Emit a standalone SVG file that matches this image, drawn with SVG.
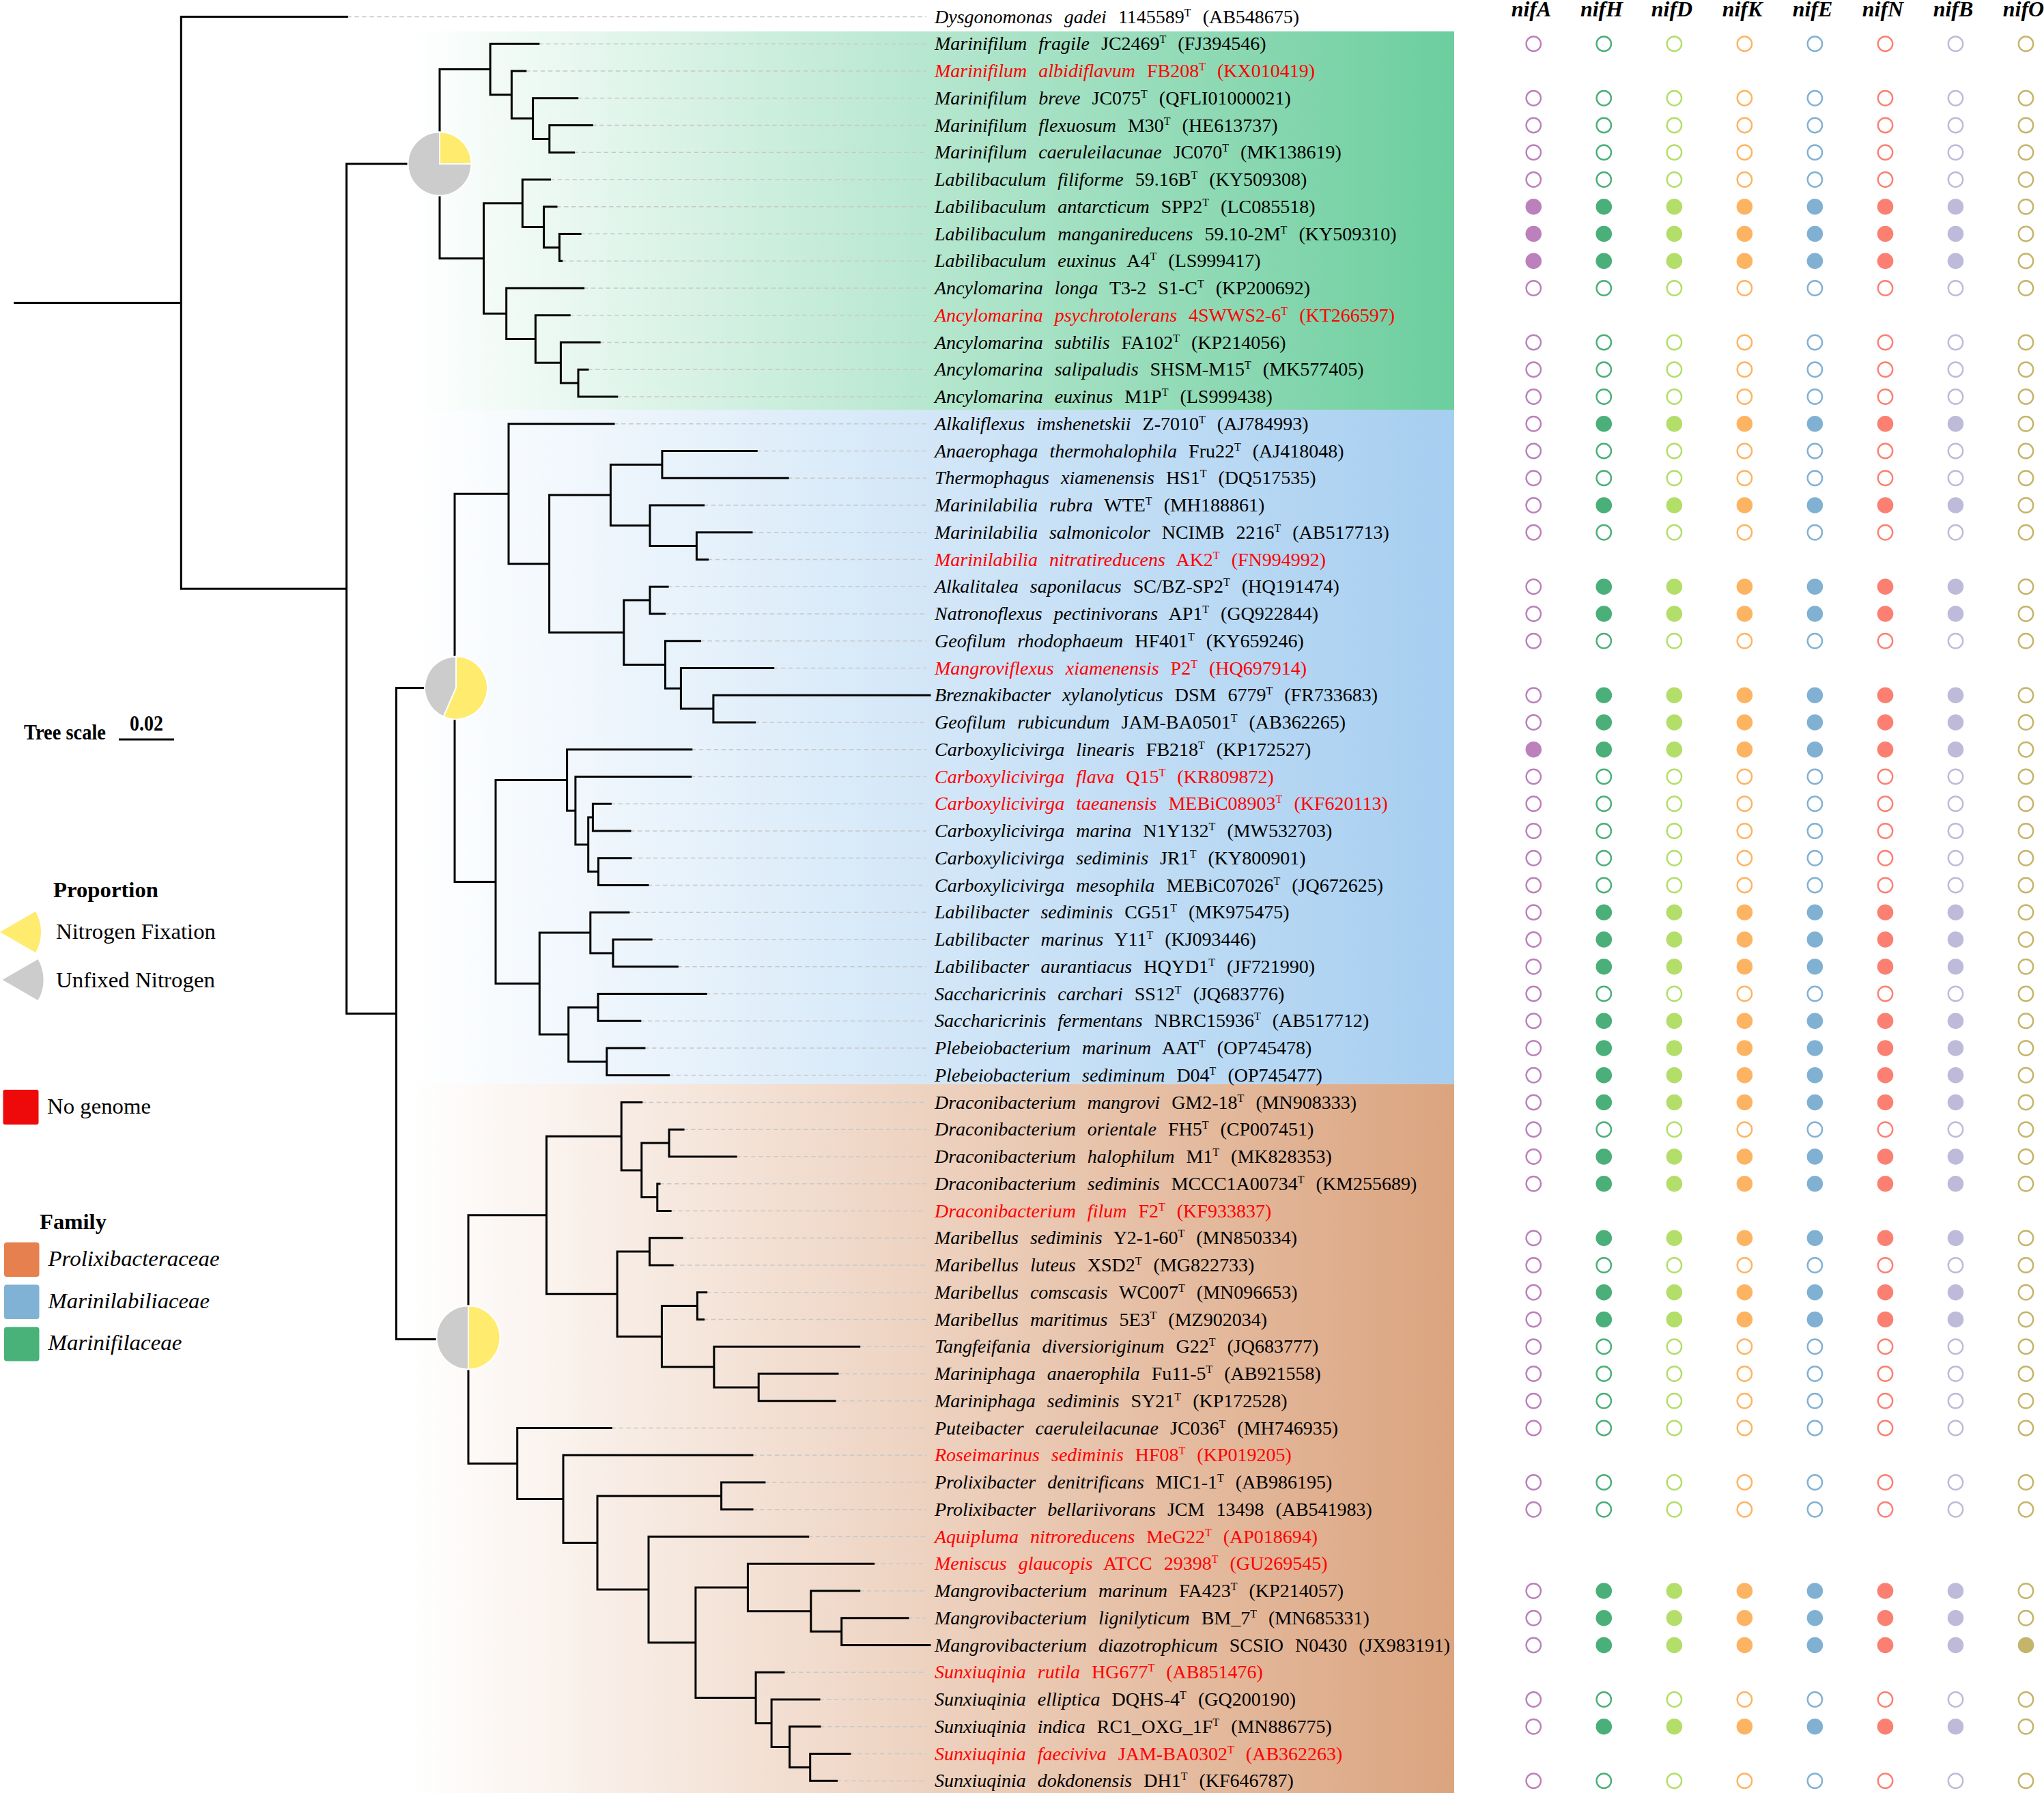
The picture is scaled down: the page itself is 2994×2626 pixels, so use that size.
<svg xmlns="http://www.w3.org/2000/svg" width="2994" height="2626" viewBox="0 0 2994 2626">
<style>
.lb{font-family:"Liberation Serif","Times New Roman",serif;font-size:28px;word-spacing:10px;fill:#000}
.rd{fill:#F00}
.i{font-style:italic}
.s{font-size:16px}
.hd{font-family:"Liberation Serif","Times New Roman",serif;font-size:32px;font-weight:bold;font-style:italic;text-anchor:middle;fill:#000}
.tr{fill:none;stroke:#000;stroke-width:3;stroke-linecap:square}
.ld{fill:none;stroke:#C8C8C8;stroke-width:1.6;stroke-dasharray:6.5 4.5}
.lg{font-family:"Liberation Serif","Times New Roman",serif;font-size:32px;fill:#000}
.b{font-weight:bold}
.ec{fill:none;stroke-width:2.4}
.yl{fill:#FFEB6E;stroke:#fff;stroke-width:2}
.gy{fill:#CCCCCC;stroke:#fff;stroke-width:2}
</style>
<defs>
<linearGradient id="gG" x1="0" y1="0" x2="1" y2="0"><stop offset="0" stop-color="#fff"/><stop offset="1" stop-color="#6CCE9E"/></linearGradient>
<linearGradient id="gB" x1="0" y1="0" x2="1" y2="0"><stop offset="0" stop-color="#fff"/><stop offset="1" stop-color="#A6CEF0"/></linearGradient>
<linearGradient id="gO" x1="0" y1="0" x2="1" y2="0"><stop offset="0" stop-color="#fff"/><stop offset="1" stop-color="#DBA47F"/></linearGradient>
<g id="rE">
<circle cx="2246.3" r="10.7" class="ec" stroke="#BC80BD"/>
<circle cx="2349.3" r="10.7" class="ec" stroke="#4AAF78"/>
<circle cx="2452.4" r="10.7" class="ec" stroke="#B3DE69"/>
<circle cx="2555.4" r="10.7" class="ec" stroke="#FDB462"/>
<circle cx="2658.4" r="10.7" class="ec" stroke="#80B1D3"/>
<circle cx="2761.5" r="10.7" class="ec" stroke="#FB8072"/>
<circle cx="2864.5" r="10.7" class="ec" stroke="#BEBADA"/>
<circle cx="2967.5" r="10.7" class="ec" stroke="#C5B56A"/>
</g>
<g id="rF">
<circle cx="2246.3" r="10.7" class="ec" stroke="#BC80BD"/>
<circle cx="2349.3" r="11.8" fill="#4AAF78"/>
<circle cx="2452.4" r="11.8" fill="#B3DE69"/>
<circle cx="2555.4" r="11.8" fill="#FDB462"/>
<circle cx="2658.4" r="11.8" fill="#80B1D3"/>
<circle cx="2761.5" r="11.8" fill="#FB8072"/>
<circle cx="2864.5" r="11.8" fill="#BEBADA"/>
<circle cx="2967.5" r="10.7" class="ec" stroke="#C5B56A"/>
</g>
<g id="rFA">
<circle cx="2246.3" r="11.8" fill="#BC80BD"/>
<circle cx="2349.3" r="11.8" fill="#4AAF78"/>
<circle cx="2452.4" r="11.8" fill="#B3DE69"/>
<circle cx="2555.4" r="11.8" fill="#FDB462"/>
<circle cx="2658.4" r="11.8" fill="#80B1D3"/>
<circle cx="2761.5" r="11.8" fill="#FB8072"/>
<circle cx="2864.5" r="11.8" fill="#BEBADA"/>
<circle cx="2967.5" r="10.7" class="ec" stroke="#C5B56A"/>
</g>
<g id="rFO">
<circle cx="2246.3" r="10.7" class="ec" stroke="#BC80BD"/>
<circle cx="2349.3" r="11.8" fill="#4AAF78"/>
<circle cx="2452.4" r="11.8" fill="#B3DE69"/>
<circle cx="2555.4" r="11.8" fill="#FDB462"/>
<circle cx="2658.4" r="11.8" fill="#80B1D3"/>
<circle cx="2761.5" r="11.8" fill="#FB8072"/>
<circle cx="2864.5" r="11.8" fill="#BEBADA"/>
<circle cx="2967.5" r="11.8" fill="#C5B56A"/>
</g>
</defs>
<rect width="2994" height="2626" fill="#fff"/>
<g id="bands">
<rect x="600" y="46" width="1530" height="554.7" fill="url(#gG)"/>
<rect x="600" y="600.7" width="1530" height="986.8" fill="url(#gB)"/>
<rect x="600" y="1587.5" width="1530" height="1038.5" fill="url(#gO)"/>
</g>
<g id="headers">
<text class="hd" x="2243" y="24">nifA</text>
<text class="hd" x="2346" y="24">nifH</text>
<text class="hd" x="2449" y="24">nifD</text>
<text class="hd" x="2552" y="24">nifK</text>
<text class="hd" x="2655" y="24">nifE</text>
<text class="hd" x="2758" y="24">nifN</text>
<text class="hd" x="2861" y="24">nifB</text>
<text class="hd" x="2964" y="24">nifO</text>
</g>
<g id="connectors">
<path class="ld" d="M508.3 24.5H1357M788.9 64.25H1357M769.8 104H1357M845.7 143.75H1357M867.3 183.5H1357M840.6 223.25H1357M805.5 263H1357M815 302.75H1357M850.1 342.5H1357M822.7 382.25H1357M854.6 422H1357M834.2 461.75H1357M878.2 501.5H1357M861 541.25H1357M903.7 581H1357M899 620.75H1357M1108.2 660.5H1357M1154.1 700.25H1357M1030.6 740H1357M1101 779.75H1357M1036.7 819.5H1357M978.1 859.25H1357M973.5 899H1357M1025.5 938.75H1357M1132.7 978.5H1357M1105.6 1058H1357M1012.8 1097.75H1357M1011.7 1137.5H1357M894.4 1177.25H1357M923 1217H1357M924 1256.75H1357M949 1296.5H1357M920.9 1336.25H1357M954.1 1376H1357M992.3 1415.75H1357M1034.2 1455.5H1357M937.8 1495.25H1357M943.9 1535H1357M979.6 1574.75H1357M939.8 1614.5H1357M1001 1654.25H1357M1078.1 1694H1357M966 1733.75H1357M982.1 1773.5H1357M999 1813.25H1357M985.2 1853H1357M1034.7 1892.75H1357M1030.6 1932.5H1357M1258.7 1972.25H1357M1227 2012H1357M1223 2051.75H1357M895.4 2091.5H1357M1102 2131.25H1357M1119.9 2171H1357M1102 2210.75H1357M1183.7 2250.5H1357M1279.6 2290.25H1357M1258.7 2330H1357M1330 2369.75H1357M1148 2449.25H1357M1200 2489H1357M1201 2528.75H1357M1244.9 2568.5H1357M1225.5 2608.25H1357"/>
<path class="tr" d="M21.7 443.4H265.3M265.3 24.5V862.25M265.3 24.5H508.3M265.3 862.25H507.6M507.6 240V1484.5M507.6 240H644M507.6 1484.5H580.5M580.5 1007.4V1961.6M580.5 1007.4H668M580.5 1961.6H686"/>
<path class="tr" d="M644 101.5V378.5M644 101.5H718.1M644 378.5H708.5M718.1 64.25V138.8M718.1 64.25H788.9M718.1 138.8H749.4M749.4 104V173.6M749.4 104H769.8M749.4 173.6H780.6M780.6 143.75V203.4M780.6 143.75H845.7M780.6 203.4H804.8M804.8 183.5V223.25M804.8 183.5H867.3M804.8 223.25H840.6M708.5 297.8V459.25M708.5 297.8H765.3M708.5 459.25H741.7M765.3 263V332.6M765.3 263H805.5M765.3 332.6H796.6M796.6 302.75V362.4M796.6 302.75H815M796.6 362.4H819.5M819.5 342.5V382.25M819.5 342.5H850.1M819.5 382.25H822.7M741.7 422V496.5M741.7 422H854.6M741.7 496.5H784.4M784.4 461.75V531.3M784.4 461.75H834.2M784.4 531.3H821.4M821.4 501.5V561.1M821.4 501.5H878.2M821.4 561.1H847M847 541.25V581M847 541.25H861M847 581H903.7"/>
<path class="tr" d="M666 723.2V1291.6M666 723.2H745M666 1291.6H726M745 620.75V825.7M745 620.75H899M745 825.7H804.6M804.6 725.1V926.3M804.6 725.1H894.4M804.6 926.3H913.8M894.4 680.4V769.8M894.4 680.4H969.9M894.4 769.8H952M969.9 660.5V700.25M969.9 660.5H1108.2M969.9 700.25H1154.1M952 740V799.6M952 740H1030.6M952 799.6H1020.4M1020.4 779.75V819.5M1020.4 779.75H1101M1020.4 819.5H1036.7M913.8 879.1V973.5M913.8 879.1H952M913.8 973.5H974.5M952 859.25V899M952 859.25H978.1M952 899H973.5M974.5 938.75V1008.3M974.5 938.75H1025.5M974.5 1008.3H997.4M997.4 978.5V1038.1M997.4 978.5H1132.7M997.4 1038.1H1044.9M1044.9 1018.25V1058M1044.9 1018.25H1362M1044.9 1058H1105.6M726 1142.5V1440.6M726 1142.5H830.6M726 1440.6H790.3M830.6 1097.75V1187.2M830.6 1097.75H1012.8M830.6 1187.2H842.9M842.9 1137.5V1236.9M842.9 1137.5H1011.7M842.9 1236.9H861.7M861.7 1197.1V1276.6M861.7 1197.1H868.4M861.7 1276.6H876.5M868.4 1177.25V1217M868.4 1177.25H894.4M868.4 1217H923M876.5 1256.75V1296.5M876.5 1256.75H924M876.5 1296.5H949M790.3 1366.1V1515.1M790.3 1366.1H864.8M790.3 1515.1H832.7M864.8 1336.25V1395.9M864.8 1336.25H920.9M864.8 1395.9H898M898 1376V1415.75M898 1376H954.1M898 1415.75H992.3M832.7 1475.4V1554.9M832.7 1475.4H876M832.7 1554.9H888.8M876 1455.5V1495.25M876 1455.5H1034.2M876 1495.25H937.8M888.8 1535V1574.75M888.8 1535H943.9M888.8 1574.75H979.6"/>
<path class="tr" d="M686 1779.7V2143.4M686 1779.7H800.5M686 2143.4H757.7M800.5 1664.2V1895.2M800.5 1664.2H910.2M800.5 1895.2H904.1M910.2 1614.5V1713.9M910.2 1614.5H939.8M910.2 1713.9H939.8M939.8 1674.1V1753.6M939.8 1674.1H980.1M939.8 1753.6H962.8M980.1 1654.25V1694M980.1 1654.25H1001M980.1 1694H1078.1M962.8 1733.75V1773.5M962.8 1733.75H966M962.8 1773.5H982.1M904.1 1833.1V1957.4M904.1 1833.1H951.5M904.1 1957.4H969.4M951.5 1813.25V1853M951.5 1813.25H999M951.5 1853H985.2M969.4 1912.6V2002.1M969.4 1912.6H1021.4M969.4 2002.1H1045.9M1021.4 1892.75V1932.5M1021.4 1892.75H1034.7M1021.4 1932.5H1030.6M1045.9 1972.25V2031.9M1045.9 1972.25H1258.7M1045.9 2031.9H1111.2M1111.2 2012V2051.75M1111.2 2012H1227M1111.2 2051.75H1223M757.7 2091.5V2195.4M757.7 2091.5H895.4M757.7 2195.4H825M825 2131.25V2259.5M825 2131.25H1102M825 2259.5H875M875 2190.9V2328.1M875 2190.9H1056.6M875 2328.1H950M1056.6 2171V2210.75M1056.6 2171H1119.9M1056.6 2210.75H1102M950 2250.5V2405.8M950 2250.5H1183.7M950 2405.8H1018.9M1018.9 2325V2486.5M1018.9 2325H1095.4M1018.9 2486.5H1107.1M1095.4 2290.25V2359.8M1095.4 2290.25H1279.6M1095.4 2359.8H1187.8M1187.8 2330V2389.6M1187.8 2330H1258.7M1187.8 2389.6H1232.7M1232.7 2369.75V2409.5M1232.7 2369.75H1330M1232.7 2409.5H1362M1107.1 2449.25V2523.8M1107.1 2449.25H1148M1107.1 2523.8H1130.1M1130.1 2489V2558.6M1130.1 2489H1200M1130.1 2558.6H1156.6M1156.6 2528.75V2588.4M1156.6 2528.75H1201M1156.6 2588.4H1186.7M1186.7 2568.5V2608.25M1186.7 2568.5H1244.9M1186.7 2608.25H1225.5"/>
</g>
<g id="pie-marinifilaceae">
<path class="gy" d="M644 240L690.5 240A46.5 46.5 0 1 1 644 193.5Z"/>
<path class="yl" d="M644 240L644 193.5A46.5 46.5 0 0 1 690.5 240Z"/>
</g>
<g id="pie-marinilabiliaceae">
<path class="gy" d="M668 1007.4L649.7 1049.6A46 46 0 0 1 668 961.4Z"/>
<path class="yl" d="M668 1007.4L668 961.4A46 46 0 1 1 649.7 1049.6Z"/>
</g>
<g id="pie-prolixibacteraceae">
<path class="gy" d="M686 1959L686 2005.5A46.5 46.5 0 0 1 686 1912.5Z"/>
<path class="yl" d="M686 1959L686 1912.5A46.5 46.5 0 0 1 686 2005.5Z"/>
</g>
<g id="leaves">
<g id="r1" transform="translate(0,24.5)"><text class="lb" x="1369" y="9"><tspan class="i">Dysgonomonas gadei</tspan> 1145589<tspan class="s" dy="-10">T</tspan><tspan dy="10"> (AB548675)</tspan></text></g>
<g id="r2" transform="translate(0,64.25)"><text class="lb" x="1369" y="9"><tspan class="i">Marinifilum fragile</tspan> JC2469<tspan class="s" dy="-10">T</tspan><tspan dy="10"> (FJ394546)</tspan></text><use href="#rE"/></g>
<g id="r3" transform="translate(0,104)"><text class="lb rd" x="1369" y="9"><tspan class="i">Marinifilum albidiflavum</tspan> FB208<tspan class="s" dy="-10">T</tspan><tspan dy="10"> (KX010419)</tspan></text></g>
<g id="r4" transform="translate(0,143.75)"><text class="lb" x="1369" y="9"><tspan class="i">Marinifilum breve</tspan> JC075<tspan class="s" dy="-10">T</tspan><tspan dy="10"> (QFLI01000021)</tspan></text><use href="#rE"/></g>
<g id="r5" transform="translate(0,183.5)"><text class="lb" x="1369" y="9"><tspan class="i">Marinifilum flexuosum</tspan> M30<tspan class="s" dy="-10">T</tspan><tspan dy="10"> (HE613737)</tspan></text><use href="#rE"/></g>
<g id="r6" transform="translate(0,223.25)"><text class="lb" x="1369" y="9"><tspan class="i">Marinifilum caeruleilacunae</tspan> JC070<tspan class="s" dy="-10">T</tspan><tspan dy="10"> (MK138619)</tspan></text><use href="#rE"/></g>
<g id="r7" transform="translate(0,263)"><text class="lb" x="1369" y="9"><tspan class="i">Labilibaculum filiforme</tspan> 59.16B<tspan class="s" dy="-10">T</tspan><tspan dy="10"> (KY509308)</tspan></text><use href="#rE"/></g>
<g id="r8" transform="translate(0,302.75)"><text class="lb" x="1369" y="9"><tspan class="i">Labilibaculum antarcticum</tspan> SPP2<tspan class="s" dy="-10">T</tspan><tspan dy="10"> (LC085518)</tspan></text><use href="#rFA"/></g>
<g id="r9" transform="translate(0,342.5)"><text class="lb" x="1369" y="9"><tspan class="i">Labilibaculum manganireducens</tspan> 59.10-2M<tspan class="s" dy="-10">T</tspan><tspan dy="10"> (KY509310)</tspan></text><use href="#rFA"/></g>
<g id="r10" transform="translate(0,382.25)"><text class="lb" x="1369" y="9"><tspan class="i">Labilibaculum euxinus</tspan> A4<tspan class="s" dy="-10">T</tspan><tspan dy="10"> (LS999417)</tspan></text><use href="#rFA"/></g>
<g id="r11" transform="translate(0,422)"><text class="lb" x="1369" y="9"><tspan class="i">Ancylomarina longa</tspan> T3-2 S1-C<tspan class="s" dy="-10">T</tspan><tspan dy="10"> (KP200692)</tspan></text><use href="#rE"/></g>
<g id="r12" transform="translate(0,461.75)"><text class="lb rd" x="1369" y="9"><tspan class="i">Ancylomarina psychrotolerans</tspan> 4SWWS2-6<tspan class="s" dy="-10">T</tspan><tspan dy="10"> (KT266597)</tspan></text></g>
<g id="r13" transform="translate(0,501.5)"><text class="lb" x="1369" y="9"><tspan class="i">Ancylomarina subtilis</tspan> FA102<tspan class="s" dy="-10">T</tspan><tspan dy="10"> (KP214056)</tspan></text><use href="#rE"/></g>
<g id="r14" transform="translate(0,541.25)"><text class="lb" x="1369" y="9"><tspan class="i">Ancylomarina salipaludis</tspan> SHSM-M15<tspan class="s" dy="-10">T</tspan><tspan dy="10"> (MK577405)</tspan></text><use href="#rE"/></g>
<g id="r15" transform="translate(0,581)"><text class="lb" x="1369" y="9"><tspan class="i">Ancylomarina euxinus</tspan> M1P<tspan class="s" dy="-10">T</tspan><tspan dy="10"> (LS999438)</tspan></text><use href="#rE"/></g>
<g id="r16" transform="translate(0,620.75)"><text class="lb" x="1369" y="9"><tspan class="i">Alkaliflexus imshenetskii</tspan> Z-7010<tspan class="s" dy="-10">T</tspan><tspan dy="10"> (AJ784993)</tspan></text><use href="#rF"/></g>
<g id="r17" transform="translate(0,660.5)"><text class="lb" x="1369" y="9"><tspan class="i">Anaerophaga thermohalophila</tspan> Fru22<tspan class="s" dy="-10">T</tspan><tspan dy="10"> (AJ418048)</tspan></text><use href="#rE"/></g>
<g id="r18" transform="translate(0,700.25)"><text class="lb" x="1369" y="9"><tspan class="i">Thermophagus xiamenensis</tspan> HS1<tspan class="s" dy="-10">T</tspan><tspan dy="10"> (DQ517535)</tspan></text><use href="#rE"/></g>
<g id="r19" transform="translate(0,740)"><text class="lb" x="1369" y="9"><tspan class="i">Marinilabilia rubra</tspan> WTE<tspan class="s" dy="-10">T</tspan><tspan dy="10"> (MH188861)</tspan></text><use href="#rF"/></g>
<g id="r20" transform="translate(0,779.75)"><text class="lb" x="1369" y="9"><tspan class="i">Marinilabilia salmonicolor</tspan> NCIMB 2216<tspan class="s" dy="-10">T</tspan><tspan dy="10"> (AB517713)</tspan></text><use href="#rE"/></g>
<g id="r21" transform="translate(0,819.5)"><text class="lb rd" x="1369" y="9"><tspan class="i">Marinilabilia nitratireducens</tspan> AK2<tspan class="s" dy="-10">T</tspan><tspan dy="10"> (FN994992)</tspan></text></g>
<g id="r22" transform="translate(0,859.25)"><text class="lb" x="1369" y="9"><tspan class="i">Alkalitalea saponilacus</tspan> SC/BZ-SP2<tspan class="s" dy="-10">T</tspan><tspan dy="10"> (HQ191474)</tspan></text><use href="#rF"/></g>
<g id="r23" transform="translate(0,899)"><text class="lb" x="1369" y="9"><tspan class="i">Natronoflexus pectinivorans</tspan> AP1<tspan class="s" dy="-10">T</tspan><tspan dy="10"> (GQ922844)</tspan></text><use href="#rF"/></g>
<g id="r24" transform="translate(0,938.75)"><text class="lb" x="1369" y="9"><tspan class="i">Geofilum rhodophaeum</tspan> HF401<tspan class="s" dy="-10">T</tspan><tspan dy="10"> (KY659246)</tspan></text><use href="#rE"/></g>
<g id="r25" transform="translate(0,978.5)"><text class="lb rd" x="1369" y="9"><tspan class="i">Mangroviflexus xiamenensis</tspan> P2<tspan class="s" dy="-10">T</tspan><tspan dy="10"> (HQ697914)</tspan></text></g>
<g id="r26" transform="translate(0,1018.25)"><text class="lb" x="1369" y="9"><tspan class="i">Breznakibacter xylanolyticus</tspan> DSM 6779<tspan class="s" dy="-10">T</tspan><tspan dy="10"> (FR733683)</tspan></text><use href="#rF"/></g>
<g id="r27" transform="translate(0,1058)"><text class="lb" x="1369" y="9"><tspan class="i">Geofilum rubicundum</tspan> JAM-BA0501<tspan class="s" dy="-10">T</tspan><tspan dy="10"> (AB362265)</tspan></text><use href="#rF"/></g>
<g id="r28" transform="translate(0,1097.75)"><text class="lb" x="1369" y="9"><tspan class="i">Carboxylicivirga linearis</tspan> FB218<tspan class="s" dy="-10">T</tspan><tspan dy="10"> (KP172527)</tspan></text><use href="#rFA"/></g>
<g id="r29" transform="translate(0,1137.5)"><text class="lb rd" x="1369" y="9"><tspan class="i">Carboxylicivirga flava</tspan> Q15<tspan class="s" dy="-10">T</tspan><tspan dy="10"> (KR809872)</tspan></text><use href="#rE"/></g>
<g id="r30" transform="translate(0,1177.25)"><text class="lb rd" x="1369" y="9"><tspan class="i">Carboxylicivirga taeanensis</tspan> MEBiC08903<tspan class="s" dy="-10">T</tspan><tspan dy="10"> (KF620113)</tspan></text><use href="#rE"/></g>
<g id="r31" transform="translate(0,1217)"><text class="lb" x="1369" y="9"><tspan class="i">Carboxylicivirga marina</tspan> N1Y132<tspan class="s" dy="-10">T</tspan><tspan dy="10"> (MW532703)</tspan></text><use href="#rE"/></g>
<g id="r32" transform="translate(0,1256.75)"><text class="lb" x="1369" y="9"><tspan class="i">Carboxylicivirga sediminis</tspan> JR1<tspan class="s" dy="-10">T</tspan><tspan dy="10"> (KY800901)</tspan></text><use href="#rE"/></g>
<g id="r33" transform="translate(0,1296.5)"><text class="lb" x="1369" y="9"><tspan class="i">Carboxylicivirga mesophila</tspan> MEBiC07026<tspan class="s" dy="-10">T</tspan><tspan dy="10"> (JQ672625)</tspan></text><use href="#rE"/></g>
<g id="r34" transform="translate(0,1336.25)"><text class="lb" x="1369" y="9"><tspan class="i">Labilibacter sediminis</tspan> CG51<tspan class="s" dy="-10">T</tspan><tspan dy="10"> (MK975475)</tspan></text><use href="#rF"/></g>
<g id="r35" transform="translate(0,1376)"><text class="lb" x="1369" y="9"><tspan class="i">Labilibacter marinus</tspan> Y11<tspan class="s" dy="-10">T</tspan><tspan dy="10"> (KJ093446)</tspan></text><use href="#rF"/></g>
<g id="r36" transform="translate(0,1415.75)"><text class="lb" x="1369" y="9"><tspan class="i">Labilibacter aurantiacus</tspan> HQYD1<tspan class="s" dy="-10">T</tspan><tspan dy="10"> (JF721990)</tspan></text><use href="#rF"/></g>
<g id="r37" transform="translate(0,1455.5)"><text class="lb" x="1369" y="9"><tspan class="i">Saccharicrinis carchari</tspan> SS12<tspan class="s" dy="-10">T</tspan><tspan dy="10"> (JQ683776)</tspan></text><use href="#rE"/></g>
<g id="r38" transform="translate(0,1495.25)"><text class="lb" x="1369" y="9"><tspan class="i">Saccharicrinis fermentans</tspan> NBRC15936<tspan class="s" dy="-10">T</tspan><tspan dy="10"> (AB517712)</tspan></text><use href="#rF"/></g>
<g id="r39" transform="translate(0,1535)"><text class="lb" x="1369" y="9"><tspan class="i">Plebeiobacterium marinum</tspan> AAT<tspan class="s" dy="-10">T</tspan><tspan dy="10"> (OP745478)</tspan></text><use href="#rF"/></g>
<g id="r40" transform="translate(0,1574.75)"><text class="lb" x="1369" y="9"><tspan class="i">Plebeiobacterium sediminum</tspan> D04<tspan class="s" dy="-10">T</tspan><tspan dy="10"> (OP745477)</tspan></text><use href="#rF"/></g>
<g id="r41" transform="translate(0,1614.5)"><text class="lb" x="1369" y="9"><tspan class="i">Draconibacterium mangrovi</tspan> GM2-18<tspan class="s" dy="-10">T</tspan><tspan dy="10"> (MN908333)</tspan></text><use href="#rF"/></g>
<g id="r42" transform="translate(0,1654.25)"><text class="lb" x="1369" y="9"><tspan class="i">Draconibacterium orientale</tspan> FH5<tspan class="s" dy="-10">T</tspan><tspan dy="10"> (CP007451)</tspan></text><use href="#rE"/></g>
<g id="r43" transform="translate(0,1694)"><text class="lb" x="1369" y="9"><tspan class="i">Draconibacterium halophilum</tspan> M1<tspan class="s" dy="-10">T</tspan><tspan dy="10"> (MK828353)</tspan></text><use href="#rF"/></g>
<g id="r44" transform="translate(0,1733.75)"><text class="lb" x="1369" y="9"><tspan class="i">Draconibacterium sediminis</tspan> MCCC1A00734<tspan class="s" dy="-10">T</tspan><tspan dy="10"> (KM255689)</tspan></text><use href="#rF"/></g>
<g id="r45" transform="translate(0,1773.5)"><text class="lb rd" x="1369" y="9"><tspan class="i">Draconibacterium filum</tspan> F2<tspan class="s" dy="-10">T</tspan><tspan dy="10"> (KF933837)</tspan></text></g>
<g id="r46" transform="translate(0,1813.25)"><text class="lb" x="1369" y="9"><tspan class="i">Maribellus sediminis</tspan> Y2-1-60<tspan class="s" dy="-10">T</tspan><tspan dy="10"> (MN850334)</tspan></text><use href="#rF"/></g>
<g id="r47" transform="translate(0,1853)"><text class="lb" x="1369" y="9"><tspan class="i">Maribellus luteus</tspan> XSD2<tspan class="s" dy="-10">T</tspan><tspan dy="10"> (MG822733)</tspan></text><use href="#rE"/></g>
<g id="r48" transform="translate(0,1892.75)"><text class="lb" x="1369" y="9"><tspan class="i">Maribellus comscasis</tspan> WC007<tspan class="s" dy="-10">T</tspan><tspan dy="10"> (MN096653)</tspan></text><use href="#rF"/></g>
<g id="r49" transform="translate(0,1932.5)"><text class="lb" x="1369" y="9"><tspan class="i">Maribellus maritimus</tspan> 5E3<tspan class="s" dy="-10">T</tspan><tspan dy="10"> (MZ902034)</tspan></text><use href="#rF"/></g>
<g id="r50" transform="translate(0,1972.25)"><text class="lb" x="1369" y="9"><tspan class="i">Tangfeifania diversioriginum</tspan> G22<tspan class="s" dy="-10">T</tspan><tspan dy="10"> (JQ683777)</tspan></text><use href="#rE"/></g>
<g id="r51" transform="translate(0,2012)"><text class="lb" x="1369" y="9"><tspan class="i">Mariniphaga anaerophila</tspan> Fu11-5<tspan class="s" dy="-10">T</tspan><tspan dy="10"> (AB921558)</tspan></text><use href="#rE"/></g>
<g id="r52" transform="translate(0,2051.75)"><text class="lb" x="1369" y="9"><tspan class="i">Mariniphaga sediminis</tspan> SY21<tspan class="s" dy="-10">T</tspan><tspan dy="10"> (KP172528)</tspan></text><use href="#rE"/></g>
<g id="r53" transform="translate(0,2091.5)"><text class="lb" x="1369" y="9"><tspan class="i">Puteibacter caeruleilacunae</tspan> JC036<tspan class="s" dy="-10">T</tspan><tspan dy="10"> (MH746935)</tspan></text><use href="#rE"/></g>
<g id="r54" transform="translate(0,2131.25)"><text class="lb rd" x="1369" y="9"><tspan class="i">Roseimarinus sediminis</tspan> HF08<tspan class="s" dy="-10">T</tspan><tspan dy="10"> (KP019205)</tspan></text></g>
<g id="r55" transform="translate(0,2171)"><text class="lb" x="1369" y="9"><tspan class="i">Prolixibacter denitrificans</tspan> MIC1-1<tspan class="s" dy="-10">T</tspan><tspan dy="10"> (AB986195)</tspan></text><use href="#rE"/></g>
<g id="r56" transform="translate(0,2210.75)"><text class="lb" x="1369" y="9"><tspan class="i">Prolixibacter bellariivorans</tspan> JCM 13498 (AB541983)</text><use href="#rE"/></g>
<g id="r57" transform="translate(0,2250.5)"><text class="lb rd" x="1369" y="9"><tspan class="i">Aquipluma nitroreducens</tspan> MeG22<tspan class="s" dy="-10">T</tspan><tspan dy="10"> (AP018694)</tspan></text></g>
<g id="r58" transform="translate(0,2290.25)"><text class="lb rd" x="1369" y="9"><tspan class="i">Meniscus glaucopis</tspan> ATCC 29398<tspan class="s" dy="-10">T</tspan><tspan dy="10"> (GU269545)</tspan></text></g>
<g id="r59" transform="translate(0,2330)"><text class="lb" x="1369" y="9"><tspan class="i">Mangrovibacterium marinum</tspan> FA423<tspan class="s" dy="-10">T</tspan><tspan dy="10"> (KP214057)</tspan></text><use href="#rF"/></g>
<g id="r60" transform="translate(0,2369.75)"><text class="lb" x="1369" y="9"><tspan class="i">Mangrovibacterium lignilyticum</tspan> BM_7<tspan class="s" dy="-10">T</tspan><tspan dy="10"> (MN685331)</tspan></text><use href="#rF"/></g>
<g id="r61" transform="translate(0,2409.5)"><text class="lb" x="1369" y="9"><tspan class="i">Mangrovibacterium diazotrophicum</tspan> SCSIO N0430 (JX983191)</text><use href="#rFO"/></g>
<g id="r62" transform="translate(0,2449.25)"><text class="lb rd" x="1369" y="9"><tspan class="i">Sunxiuqinia rutila</tspan> HG677<tspan class="s" dy="-10">T</tspan><tspan dy="10"> (AB851476)</tspan></text></g>
<g id="r63" transform="translate(0,2489)"><text class="lb" x="1369" y="9"><tspan class="i">Sunxiuqinia elliptica</tspan> DQHS-4<tspan class="s" dy="-10">T</tspan><tspan dy="10"> (GQ200190)</tspan></text><use href="#rE"/></g>
<g id="r64" transform="translate(0,2528.75)"><text class="lb" x="1369" y="9"><tspan class="i">Sunxiuqinia indica</tspan> RC1_OXG_1F<tspan class="s" dy="-10">T</tspan><tspan dy="10"> (MN886775)</tspan></text><use href="#rF"/></g>
<g id="r65" transform="translate(0,2568.5)"><text class="lb rd" x="1369" y="9"><tspan class="i">Sunxiuqinia faeciviva</tspan> JAM-BA0302<tspan class="s" dy="-10">T</tspan><tspan dy="10"> (AB362263)</tspan></text></g>
<g id="r66" transform="translate(0,2608.25)"><text class="lb" x="1369" y="9"><tspan class="i">Sunxiuqinia dokdonensis</tspan> DH1<tspan class="s" dy="-10">T</tspan><tspan dy="10"> (KF646787)</tspan></text><use href="#rE"/></g>
</g>
<g id="tree-scale">
<text class="lg b" x="35" y="1083" font-size="26" textLength="120" lengthAdjust="spacingAndGlyphs">Tree scale</text>
<text class="lg b" x="190" y="1070" font-size="26" textLength="49" lengthAdjust="spacingAndGlyphs">0.02</text>
<path d="M174 1083H255" stroke="#000" stroke-width="3"/>
</g>
<g id="legend-proportion">
<text class="lg b" x="78" y="1314" textLength="154" lengthAdjust="spacingAndGlyphs">Proportion</text>
<path d="M0 1365L52 1335A60 60 0 0 1 52 1395Z" fill="#FFEB6E"/>
<path d="M3.6 1435L55.6 1405A60 60 0 0 1 55.6 1465Z" fill="#CCCCCC"/>
<text class="lg" x="82" y="1375" textLength="234" lengthAdjust="spacingAndGlyphs">Nitrogen Fixation</text>
<text class="lg" x="82" y="1446" textLength="233" lengthAdjust="spacingAndGlyphs">Unfixed Nitrogen</text>
</g>
<g id="legend-nogenome">
<rect x="4.5" y="1596" width="52" height="51" rx="3" fill="#EE0A0A"/>
<text class="lg" x="69" y="1631" textLength="152" lengthAdjust="spacingAndGlyphs">No genome</text>
</g>
<g id="legend-family">
<text class="lg b" x="58" y="1800" textLength="98" lengthAdjust="spacingAndGlyphs">Family</text>
<rect x="6" y="1819.5" width="51.5" height="50.5" rx="4" fill="#E7804F"/>
<rect x="6" y="1881.5" width="51.5" height="50.5" rx="4" fill="#80B2D6"/>
<rect x="6" y="1943.5" width="51.5" height="50" rx="4" fill="#48B278"/>
<text class="lg i" x="70.5" y="1854" textLength="251" lengthAdjust="spacingAndGlyphs">Prolixibacteraceae</text>
<text class="lg i" x="70.5" y="1916" textLength="236.5" lengthAdjust="spacingAndGlyphs">Marinilabiliaceae</text>
<text class="lg i" x="70.5" y="1977" textLength="196" lengthAdjust="spacingAndGlyphs">Marinifilaceae</text>
</g>
</svg>
